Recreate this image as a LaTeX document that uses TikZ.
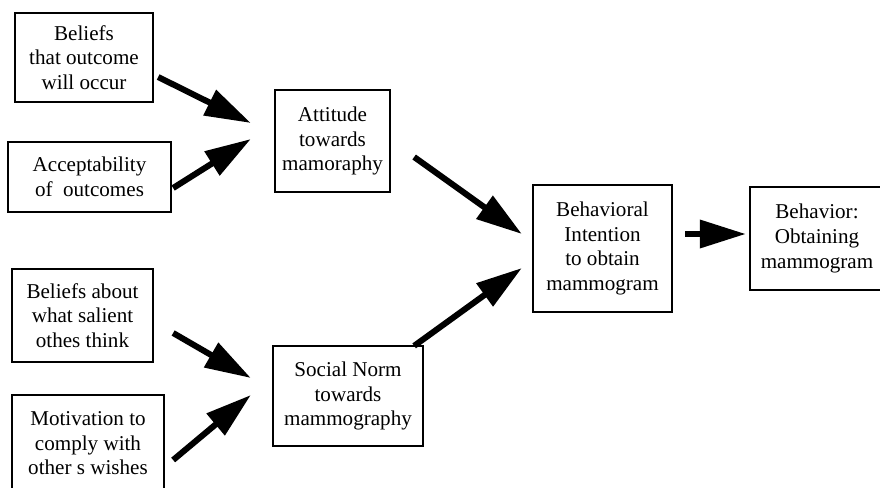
\documentclass[tikz,border=0pt]{standalone}
\usepackage{fontspec}
\setmainfont{Liberation Serif}
\usepackage{tikz}
\usetikzlibrary{arrows.meta}

\tikzset{
  box/.style={draw,line width=1.6pt,align=center,inner sep=0pt,font=\fontsize{15}{17.5}\selectfont},
  arr/.style={line width=4.3pt,-{Triangle[length=1.15cm,width=0.68cm]}}
}

\begin{document}
\begin{tikzpicture}[x=0.025cm,y=-0.025cm]
\path[use as bounding box,clip] (0,0) rectangle (880,487);
% inputs
\node[box,minimum width=3.45cm,minimum height=2.225cm] (bel) at (84,57.5) {Beliefs\\that outcome\\will occur};
\node[box,minimum width=4.075cm,minimum height=1.75cm] (acc) at (89.5,177) {Acceptability\\of\ \ outcomes};
\node[box,minimum width=3.525cm,minimum height=2.325cm] (oth) at (82.5,315.5) {Beliefs about\\what salient\\othes think};
\node[box,minimum width=3.8cm,minimum height=2.425cm] (mot) at (88,443.5) {Motivation to\\comply with\\other s wishes};
% middle
\node[box,minimum width=2.875cm,minimum height=2.55cm] (att) at (332.5,141) {Attitude\\towards\\mamoraphy};
\node[box,minimum width=3.75cm,minimum height=2.5cm] (soc) at (348,396) {Social Norm\\towards\\mammography};
\node[box,minimum width=3.475cm,minimum height=3.175cm] (int) at (602.5,248.5) {Behavioral\\Intention\\to obtain\\mammogram};
\node[box,minimum width=3.35cm,minimum height=2.575cm] (beh) at (817,238.5) {Behavior:\\Obtaining\\mammogram};
% arrows
\draw[arr] ([shift={(4,19.5)}]bel.east) -- ([shift={(-23,-18)}]att.west);
\draw[arr] ([shift={(1,11)}]acc.east) -- ([shift={(-23,-2)}]att.west);
\draw[arr] ([shift={(19,17.5)}]oth.east) -- ([shift={(-21,-18)}]soc.west);
\draw[arr] ([shift={(8,16.5)}]mot.east) -- ([shift={(-21,-1)}]soc.west);
\draw[arr] ([shift={(23,16)}]att.east) -- ([shift={(-10,-14.5)}]int.west);
\draw[arr] ([shift={(-10,1)}]soc.north east) -- ([shift={(-10,19.5)}]int.west);
\draw[arr] ([shift={(12,-14.5)}]int.east) -- ([shift={(-3,-4.5)}]beh.west);
\end{tikzpicture}
\end{document}
